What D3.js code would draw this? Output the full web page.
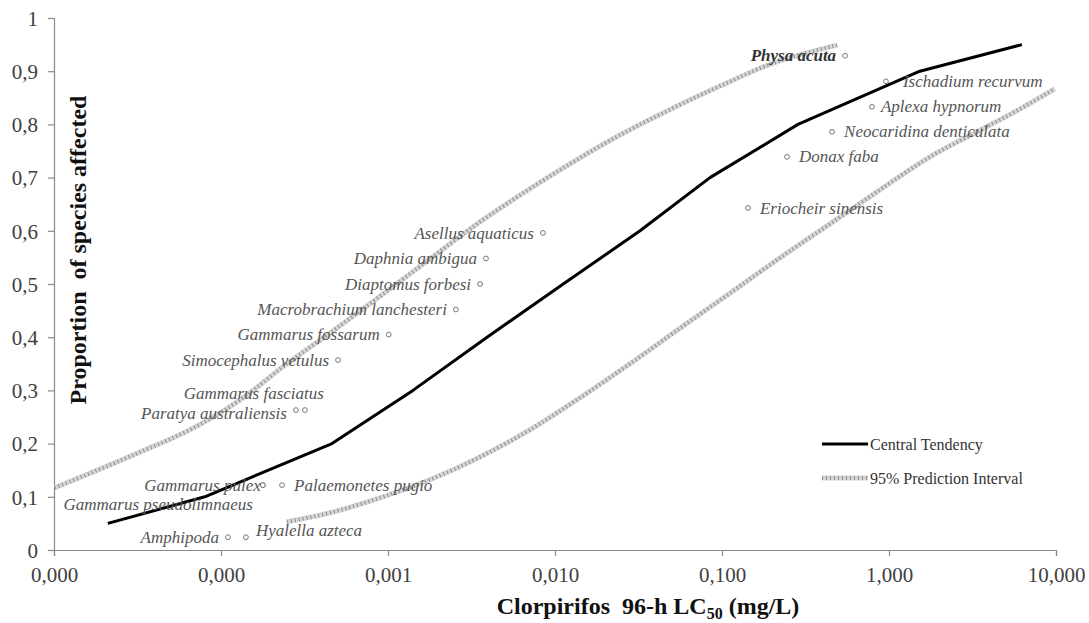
<!DOCTYPE html>
<html>
<head>
<meta charset="utf-8">
<script src="https://cdn.jsdelivr.net/npm/d3@7"></script>
<style>
  body { margin: 0; background: #fff; }
  svg { font-family: "Liberation Serif", "Times New Roman", serif; }
</style>
</head>
<body>
<div id="chart"></div>
<script>
// species points: LC50 (mg/L) and proportion affected
var species = ["Amphipoda", "Hyalella azteca", "Gammarus pseudolimnaeus", "Gammarus pulex",
	"Palaemonetes pugio", "Paratya australiensis", "Gammarus fasciatus", "Simocephalus vetulus",
	"Gammarus fossarum", "Macrobrachium lanchesteri", "Diaptomus forbesi", "Daphnia ambigua",
	"Asellus aquaticus", "Eriocheir sinensis", "Donax faba", "Neocaridina denticulata",
	"Aplexa hypnorum", "Ischadium recurvum", "Physa acuta"];
var lc50 = [1.10e-4, 1.41e-4, 1.78e-4, 1.78e-4, 2.32e-4, 2.81e-4, 3.18e-4, 5.02e-4,
	1.01e-3, 2.55e-3, 3.56e-3, 3.86e-3, 8.47e-3, 0.143, 0.245, 0.456, 0.791, 0.959, 0.546];
var affected = [0.024, 0.024, 0.122, 0.122, 0.122, 0.263, 0.263, 0.357, 0.405, 0.452,
	0.5, 0.548, 0.596, 0.643, 0.739, 0.786, 0.833, 0.881, 0.929];

// central tendency
var ctConc = [2.10e-5, 8.0e-5, 4.62e-4, 1.41e-3, 3.92e-3, 0.0112, 0.0323, 0.0847, 0.285, 1.53, 6.25];
var ctProp = [0.05, 0.1, 0.2, 0.3, 0.4, 0.5, 0.6, 0.7, 0.8, 0.9, 0.95];

// 95% prediction interval
var upConc = [1.01e-5, 3.27e-5, 6.52e-5, 1.30e-4, 2.48e-4, 4.50e-4, 8.95e-4, 1.78e-3, 3.56e-3,
	6.17e-3, 0.0123, 0.0245, 0.0489, 0.0973, 0.194, 0.489];
var upProp = [0.117, 0.184, 0.226, 0.282, 0.350, 0.408, 0.477, 0.547, 0.617,
	0.667, 0.726, 0.780, 0.828, 0.872, 0.913, 0.949];
var loConc = [2.48e-4, 4.50e-4, 8.95e-4, 1.78e-3, 3.56e-3, 7.08e-3, 0.0141, 0.0281, 0.0561,
	0.112, 0.222, 0.443, 0.883, 1.76, 3.51, 6.08, 9.86];
var loProp = [0.053, 0.070, 0.098, 0.132, 0.175, 0.226, 0.286, 0.350, 0.417,
	0.483, 0.549, 0.613, 0.677, 0.739, 0.789, 0.829, 0.867];

var xTicks = [1e-5, 1e-4, 1e-3, 1e-2, 1e-1, 1, 10];
var yTicks = [0, 0.1, 0.2, 0.3, 0.4, 0.5, 0.6, 0.7, 0.8, 0.9, 1];
var legendLabels = ["Central Tendency", "95% Prediction Interval"];

// label placement next to each point (side, nudge in px)
var labelPlace = {
	"Amphipoda": ["left", 0, 0],
	"Hyalella azteca": ["right", -2, -7],
	"Gammarus pseudolimnaeus": ["left", -1, 19],
	"Gammarus pulex": ["left", 7, 0],
	"Palaemonetes pugio": ["right", 0, 0],
	"Paratya australiensis": ["left", 0, 3],
	"Gammarus fasciatus": ["left", 28, -17],
	"Simocephalus vetulus": ["left", 0, 0],
	"Gammarus fossarum": ["left", 0, 0],
	"Macrobrachium lanchesteri": ["left", 0, 0],
	"Diaptomus forbesi": ["left", 0, 0],
	"Daphnia ambigua": ["left", 0, 0],
	"Asellus aquaticus": ["left", 0, 0],
	"Eriocheir sinensis": ["right", 0, 0],
	"Donax faba": ["right", 0, 0],
	"Neocaridina denticulata": ["right", 0, 0],
	"Aplexa hypnorum": ["right", -3, 0],
	"Ischadium recurvum": ["right", 5, 0],
	"Physa acuta": ["left", 0, 0]
};

function drawChart() {
	var width = 1089, height = 623;
	var mLeft = 54, mRight = 1056, mTop = 18, mBottom = 550;

	var svg = d3.select("#chart").append("svg")
		.attr("width", width)
		.attr("height", height);

	var x = d3.scaleLog().domain([1e-5, 10]).range([mLeft, mRight]);
	var y = d3.scaleLinear().domain([0, 1]).range([mBottom, mTop]);

	var loc = d3.formatLocale({ decimal: ",", thousands: ".", grouping: [3], currency: ["", ""] });
	var fx = loc.format(".3f");
	var fy = loc.format(".1~f");

	// axes
	svg.append("g")
		.attr("transform", "translate(0," + mBottom + ")")
		.call(d3.axisBottom(x).tickValues(xTicks).tickFormat(fx).tickSizeOuter(0).tickSize(6).tickPadding(11));
	var gy = svg.append("g")
		.attr("transform", "translate(" + mLeft + ",0)")
		.call(d3.axisLeft(y).tickValues(yTicks).tickFormat(fy).tickSizeOuter(0).tickSize(6).tickPadding(10));

	svg.selectAll(".domain, .tick line").attr("stroke", "#8a8a8a").attr("stroke-width", 1.2);
	svg.selectAll(".tick text")
		.attr("fill", "#404040")
		.style("font-size", "21px")
		.style("font-family", "Liberation Serif, serif");
	gy.selectAll(".tick text").attr("dy", "0.35em");

	// axis titles
	svg.append("text")
		.attr("transform", "translate(86,250) rotate(-90)")
		.attr("text-anchor", "middle")
		.style("font-size", "24px")
		.style("font-weight", "bold")
		.style("white-space", "pre")
		.attr("fill", "#111")
		.text("Proportion  of species affected");

	var xt = svg.append("text")
		.attr("x", 648)
		.attr("y", 614)
		.attr("text-anchor", "middle")
		.style("font-size", "24px")
		.style("font-weight", "bold")
		.style("white-space", "pre")
		.attr("fill", "#111");
	xt.append("tspan").text("Clorpirifos  96-h LC");
	xt.append("tspan").attr("dy", 5).style("font-size", "16px").text("50");
	xt.append("tspan").attr("dy", -5).text(" (mg/L)");

	// lines
	var line = d3.line().x(d => x(d[0])).y(d => y(d[1]));
	var smooth = d3.line().x(d => x(d[0])).y(d => y(d[1])).curve(d3.curveMonotoneX);

	function piPath(pts) {
		svg.append("path")
			.attr("d", smooth(pts))
			.attr("fill", "none")
			.attr("stroke", "#d6d6d6")
			.attr("stroke-width", 5);
		svg.append("path")
			.attr("d", smooth(pts))
			.attr("fill", "none")
			.attr("stroke", "#8c8c8c")
			.attr("stroke-width", 4)
			.attr("stroke-dasharray", "1,3");
	}
	piPath(upConc.map((c, i) => [c, upProp[i]]));
	piPath(loConc.map((c, i) => [c, loProp[i]]));

	svg.append("path")
		.attr("d", line(ctConc.map((c, i) => [c, ctProp[i]])))
		.attr("fill", "none")
		.attr("stroke", "#000")
		.attr("stroke-width", 3)
		.attr("stroke-linejoin", "round");

	// points and labels
	var pts = species.map((s, i) => ({ name: s, c: lc50[i], p: affected[i] }));

	svg.selectAll("circle.pt")
		.data(pts)
		.join("circle")
		.attr("class", "pt")
		.attr("cx", d => x(d.c))
		.attr("cy", d => y(d.p))
		.attr("r", 2.4)
		.attr("fill", "#fff")
		.attr("stroke", "#777")
		.attr("stroke-width", 1);

	svg.selectAll("text.lab")
		.data(pts)
		.join("text")
		.attr("class", "lab")
		.attr("x", d => {
			var pl = labelPlace[d.name];
			return x(d.c) + (pl[0] == "left" ? -9 : 12) + pl[1];
		})
		.attr("y", d => y(d.p) + labelPlace[d.name][2])
		.attr("dy", "0.33em")
		.attr("text-anchor", d => labelPlace[d.name][0] == "left" ? "end" : "start")
		.style("font-size", "17px")
		.style("font-style", "italic")
		.style("font-weight", d => d.name == "Physa acuta" ? "bold" : "normal")
		.attr("fill", d => d.name == "Physa acuta" ? "#333" : "#555")
		.text(d => d.name);

	// legend
	var lg = svg.append("g").attr("transform", "translate(822,444)");
	lg.append("line")
		.attr("x1", 0).attr("x2", 46).attr("y1", 0).attr("y2", 0)
		.attr("stroke", "#000").attr("stroke-width", 3);
	lg.append("line")
		.attr("x1", 0).attr("x2", 46).attr("y1", 34).attr("y2", 34)
		.attr("stroke", "#d6d6d6").attr("stroke-width", 5);
	lg.append("line")
		.attr("x1", 0).attr("x2", 46).attr("y1", 34).attr("y2", 34)
		.attr("stroke", "#8c8c8c").attr("stroke-width", 4).attr("stroke-dasharray", "1,3");
	lg.selectAll("text.leg")
		.data(legendLabels)
		.join("text")
		.attr("class", "leg")
		.attr("x", 48)
		.attr("y", (d, i) => i * 34)
		.attr("dy", "0.35em")
		.style("font-size", "16px")
		.attr("fill", "#333")
		.text(d => d);
}

drawChart();
</script>
</body>
</html>
